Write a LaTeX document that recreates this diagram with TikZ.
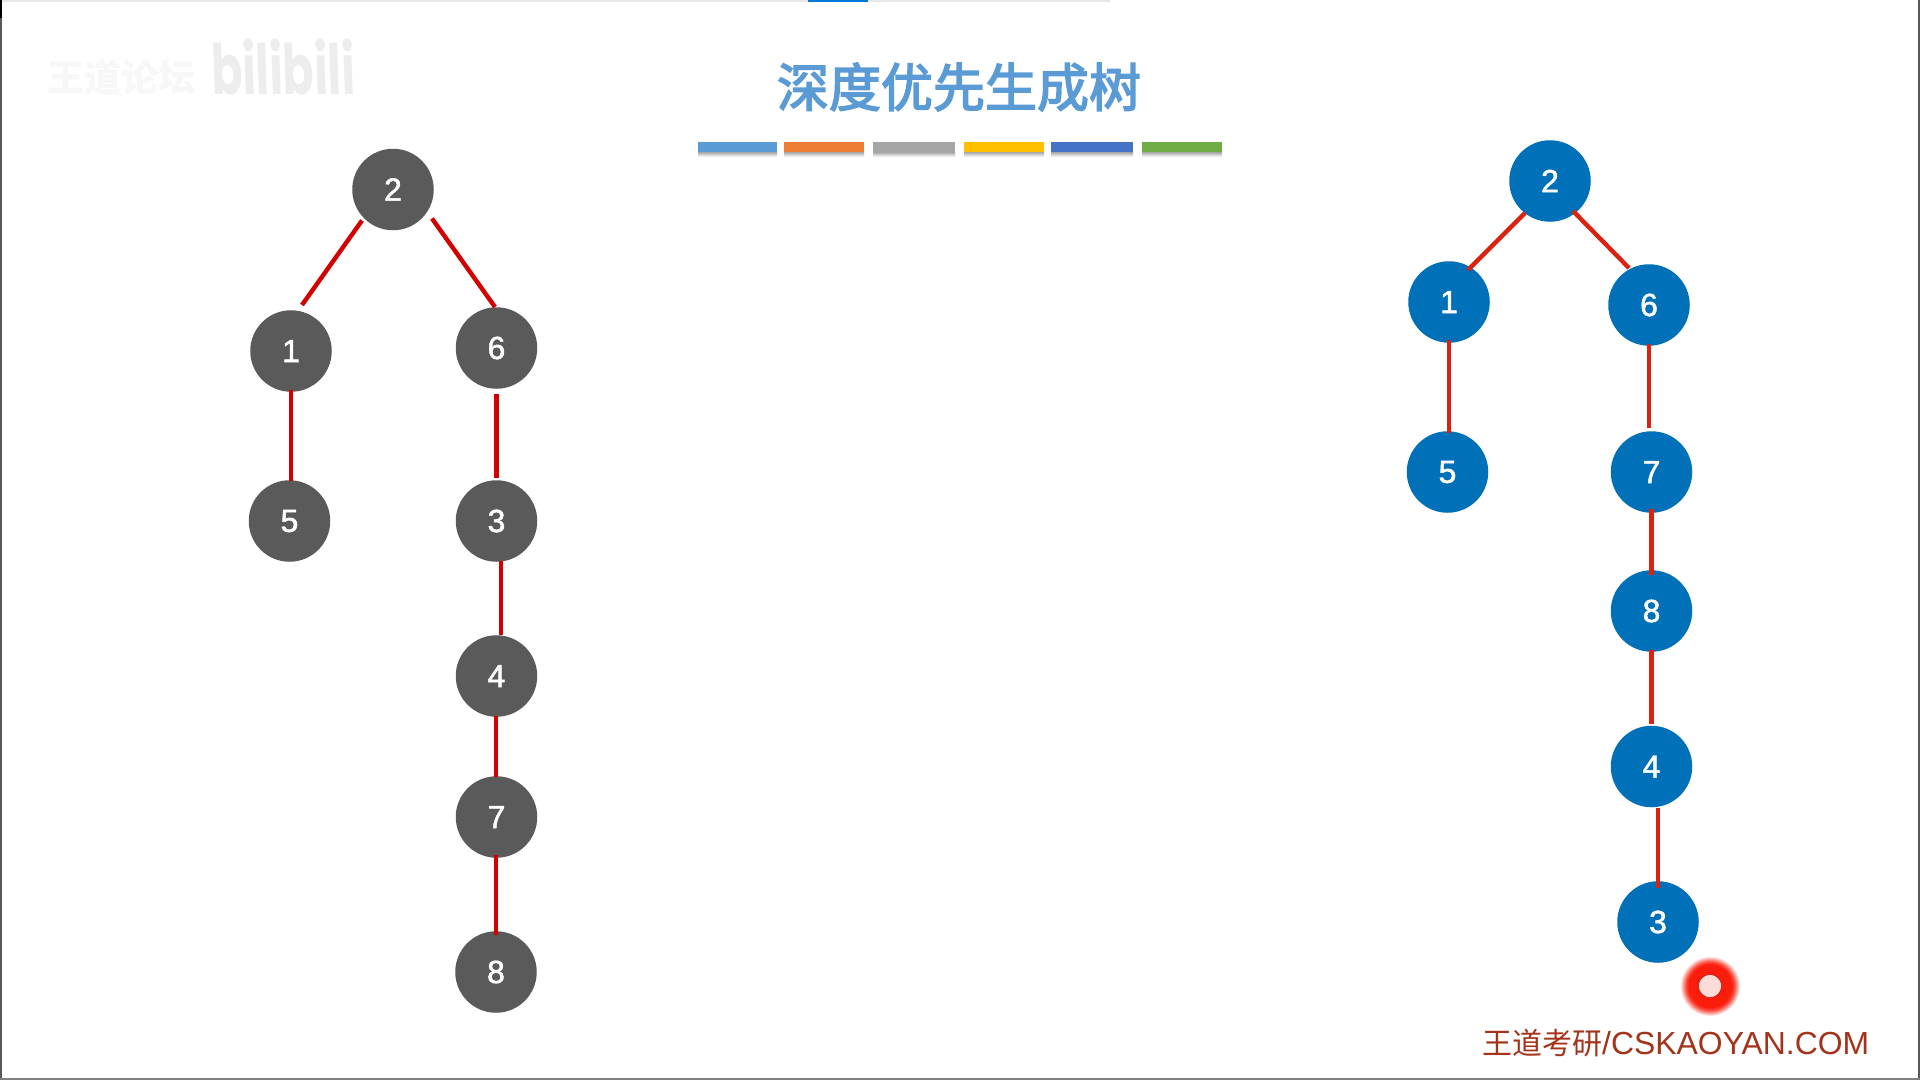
\documentclass[tikz,border=0pt]{standalone}
\usepackage{fontspec}
\setmainfont{Liberation Sans}
\newfontfamily\cjk{Noto Sans CJK SC}
\newfontfamily\cjkmed[FakeBold=3.0]{Noto Sans CJK SC}
\newfontfamily\popp{Poppins}
\newfontfamily\digitfont[FakeBold=1.5]{Liberation Sans}
\definecolor{greynode}{HTML}{5A5A5A}
\definecolor{bluenode}{HTML}{0070B8}
\definecolor{edgeleft}{HTML}{D20000}
\definecolor{edgeright}{HTML}{D92310}
\definecolor{titleblue}{HTML}{5B9BD5}
\definecolor{footred}{HTML}{A3331A}
\definecolor{dotred}{HTML}{FB1D0C}
\definecolor{dotcore}{HTML}{FCDCD8}
\definecolor{topblue}{HTML}{0078D7}
\definecolor{barA}{HTML}{5B9BD5}\definecolor{barB}{HTML}{ED7D31}\definecolor{barC}{HTML}{A5A5A5}
\definecolor{barD}{HTML}{FFC000}\definecolor{barE}{HTML}{4472C4}\definecolor{barF}{HTML}{70AD47}
\pgfdeclareradialshading{reddotglow}{\pgfpointorigin}{%
  color(0bp)=(dotred); color(18bp)=(dotred); color(20.5bp)=(dotred!75!white); color(25bp)=(white); color(50bp)=(white)}
\tikzset{
  treenode/.style={circle,minimum size=81.5pt,inner sep=0pt,text=white,
    font=\digitfont\fontsize{32}{32}\selectfont},
  grey node/.style={treenode,fill=greynode},
  blue node/.style={treenode,fill=bluenode},
  left edge/.style={draw=edgeleft,line width=4.4pt},
  right edge/.style={draw=edgeright,line width=4.4pt},
  colour bar/.style={minimum height=10pt,inner sep=0pt,anchor=north west},
}
\newcommand{\colourbar}[4]{%
  \shade[top color=black!35,bottom color=white] (#1,152) rectangle (#2,157);
  \node[colour bar,fill=#3,minimum width={#2-#1}] (#4) at (#1,142) {};}
\begin{document}
\begin{tikzpicture}[x=1pt,y=-1pt]
\useasboundingbox (0,0) rectangle (1920,1080);
\fill[white] (0,0) rectangle (1920,1080);
% window frame
\fill[black!9] (0,0) rectangle (1110,2);
\fill[black!65] (0,0) rectangle (1.6,1080);
\fill[black] (0,0) rectangle (1.6,18);
\fill[black!65] (1918.4,0) rectangle (1920,1080);
\fill[black!50] (0,1078) rectangle (1920,1080);
\fill[topblue] (808,0) rectangle (868,1.6);
% watermark
\node[text=black!3,font=\cjk\bfseries\fontsize{37}{37}\selectfont,inner sep=0pt] (wmA) at (121,77) {王道论坛};
\node[text=black!7,font=\popp\bfseries\fontsize{62}{62}\selectfont,inner sep=0pt,xscale=0.74,yscale=1.12,xslant=-0.05] (wmB) at (283,67) {bilibili};
% title
\node[text=titleblue,font=\cjkmed\fontsize{52}{52}\selectfont,inner sep=0pt] (title) at (959,87) {深度优先生成树};
\colourbar{698}{777}{barA}{b1}
\colourbar{784}{864}{barB}{b2}
\colourbar{873}{955}{barC}{b3}
\colourbar{964}{1044}{barD}{b4}
\colourbar{1051}{1133}{barE}{b5}
\colourbar{1142}{1222}{barF}{b6}
% left tree
\node[grey node] (L2) at (393,189.5) {2};
\node[grey node] (L1) at (291,351) {1};
\node[grey node] (L6) at (496.5,348) {6};
\node[grey node] (L5) at (289.5,521) {5};
\node[grey node] (L3) at (496.5,521) {3};
\node[grey node] (L4) at (496.5,676) {4};
\node[grey node] (L7) at (496.5,817) {7};
\node[grey node] (L8) at (496,972) {8};
\draw[left edge] ([shift={(-31,31)}]L2.center) -- ([shift={(11,-46)}]L1.center);
\draw[left edge] ([shift={(39,29)}]L2.center) -- ([shift={(-1.5,-41)}]L6.center);
\draw[left edge] ([shift={(0,39)}]L1.center) -- ([shift={(1.5,-40)}]L5.center);
\draw[left edge] ([shift={(0,46)}]L6.center) -- ([shift={(0,-43)}]L3.center);
\draw[left edge] ([shift={(4.5,40)}]L3.center) -- ([shift={(4.5,-41)}]L4.center);
\draw[left edge] ([shift={(-0.5,40)}]L4.center) -- ([shift={(-0.5,-40)}]L7.center);
\draw[left edge] ([shift={(-0.5,38)}]L7.center) -- ([shift={(0,-37)}]L8.center);
% right tree
\node[blue node] (R2) at (1550,181) {2};
\node[blue node] (R1) at (1449,302) {1};
\node[blue node] (R6) at (1649,305) {6};
\node[blue node] (R5) at (1447.5,472) {5};
\node[blue node] (R7) at (1651.5,472) {7};
\node[blue node] (R8) at (1651.5,611) {8};
\node[blue node] (R4) at (1651.5,766.5) {4};
\node[blue node] (R3) at (1658,922) {3};
\draw[right edge] ([shift={(-25,32)}]R2.center) -- ([shift={(19,-32)}]R1.center);
\draw[right edge] ([shift={(23,30)}]R2.center) -- ([shift={(-20,-37)}]R6.center);
\draw[right edge] ([shift={(0,38)}]R1.center) -- ([shift={(1.5,-39)}]R5.center);
\draw[right edge] ([shift={(0,39)}]R6.center) -- ([shift={(-2.5,-44)}]R7.center);
\draw[right edge] ([shift={(0,37)}]R7.center) -- ([shift={(0,-36)}]R8.center);
\draw[right edge] ([shift={(0,39)}]R8.center) -- ([shift={(0,-43)}]R4.center);
\draw[right edge] ([shift={(6.5,41)}]R4.center) -- ([shift={(0,-34)}]R3.center);
% laser pointer
\shade[shading=reddotglow] (1710,986) circle (30);
\fill[dotcore,draw=dotred!60!black,line width=0.4pt] (1710,986) circle (11.5);
% footer
\node[text=footred,anchor=west,inner sep=0pt,font=\fontsize{31.9}{32}\selectfont] (foot) at (1482,1043) {{\cjk\fontsize{30}{32}\selectfont 王道考研}/CSKAOYAN.COM};
\end{tikzpicture}
\end{document}
